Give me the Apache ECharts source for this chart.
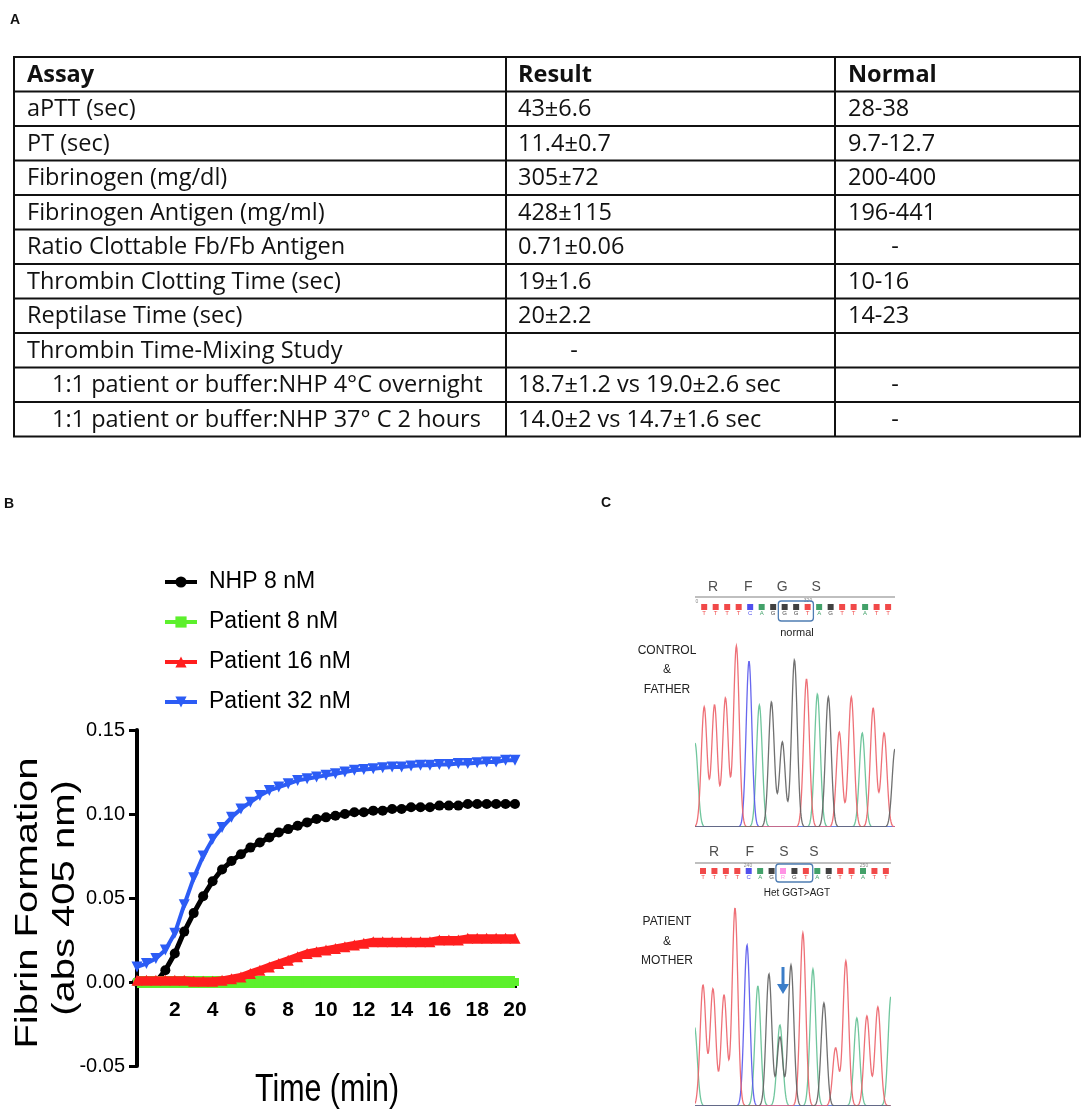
<!DOCTYPE html>
<html>
<head>
<meta charset="utf-8">
<script src="https://cdn.jsdelivr.net/npm/echarts@6/dist/echarts.min.js"></script>
<style>
  html, body { margin: 0; background: #fff; }
  #main { width: 1084px; height: 1110px; }
</style>
</head>
<body>
<div id="main"></div>
<script>
// ---- panel A: assay table ----
const assays = [
  'aPTT (sec)', 'PT (sec)', 'Fibrinogen (mg/dl)', 'Fibrinogen Antigen (mg/ml)',
  'Ratio Clottable Fb/Fb Antigen', 'Thrombin Clotting Time (sec)', 'Reptilase Time (sec)',
  'Thrombin Time-Mixing Study', '1:1 patient or buffer:NHP 4\u00b0C overnight',
  '1:1 patient or buffer:NHP 37\u00b0 C 2 hours'
];
const results = [
  '43\u00b16.6', '11.4\u00b10.7', '305\u00b172', '428\u00b1115', '0.71\u00b10.06',
  '19\u00b11.6', '20\u00b12.2', '-', '18.7\u00b11.2 vs 19.0\u00b12.6 sec', '14.0\u00b12 vs 14.7\u00b11.6 sec'
];
const normals = ['28-38', '9.7-12.7', '200-400', '196-441', '-', '10-16', '14-23', '', '-', '-'];
const indented = [false, false, false, false, false, false, false, false, true, true];

// ---- panel B: fibrin formation ----
const times = [0, 0.5, 1, 1.5, 2, 2.5, 3, 3.5, 4, 4.5, 5, 5.5, 6, 6.5, 7, 7.5, 8, 8.5, 9, 9.5,
  10, 10.5, 11, 11.5, 12, 12.5, 13, 13.5, 14, 14.5, 15, 15.5, 16, 16.5, 17, 17.5, 18, 18.5, 19, 19.5, 20];
const nhp8 = [0, 0, 0, 0.007, 0.017, 0.030, 0.041, 0.051, 0.060, 0.067, 0.072, 0.076, 0.080, 0.083,
  0.086, 0.089, 0.091, 0.093, 0.095, 0.097, 0.098, 0.099, 0.100, 0.101, 0.101, 0.102, 0.102, 0.103,
  0.103, 0.104, 0.104, 0.104, 0.105, 0.105, 0.105, 0.106, 0.106, 0.106, 0.106, 0.106, 0.106];
const patient8 = [0, 0, 0, 0, 0, 0, 0, 0, 0, 0, 0, 0, 0, 0, 0, 0, 0, 0, 0, 0, 0,
  0, 0, 0, 0, 0, 0, 0, 0, 0, 0, 0, 0, 0, 0, 0, 0, 0, 0, 0, 0];
const patient16 = [0.001, 0.001, 0.001, 0.001, 0.001, 0.001, 0.0005, 0.0005, 0.0005, 0.001, 0.002,
  0.003, 0.005, 0.007, 0.009, 0.011, 0.013, 0.015, 0.017, 0.018, 0.019, 0.020, 0.021, 0.022, 0.023,
  0.024, 0.024, 0.024, 0.024, 0.024, 0.024, 0.024, 0.025, 0.025, 0.025, 0.026, 0.026, 0.026, 0.026,
  0.026, 0.026];
const patient32 = [0.009, 0.011, 0.014, 0.019, 0.029, 0.046, 0.062, 0.075, 0.085, 0.092, 0.098, 0.103,
  0.107, 0.111, 0.114, 0.116, 0.118, 0.120, 0.121, 0.122, 0.123, 0.124, 0.125, 0.126, 0.1265, 0.127,
  0.1275, 0.128, 0.128, 0.1285, 0.129, 0.129, 0.1295, 0.1295, 0.130, 0.130, 0.1305, 0.131, 0.131,
  0.132, 0.132];
const yTicks = [-0.05, 0, 0.05, 0.10, 0.15];

// ---- panel C: sequencing traces ----
const controlCalls = ['T', 'T', 'T', 'T', 'C', 'A', 'G', 'G', 'G', 'T', 'A', 'G', 'T', 'T', 'A', 'T', 'T'];
const patientCalls = ['T', 'T', 'T', 'T', 'C', 'A', 'G', 'R', 'G', 'T', 'A', 'G', 'T', 'T', 'A', 'T', 'T'];
const controlResidues = [['R', 0.78], ['F', 3.83], ['G', 6.78], ['S', 9.74]];
const patientResidues = [['R', 0.96], ['F', 4.1], ['S', 7.08], ['S', 9.7]];
// [position (base index), peak height, base]
const controlPeaks = [
  [-0.8, 84, 'A'], [0.0, 120, 'T'], [0.9, 122, 'T'], [1.85, 129, 'T'], [2.8, 181, 'T'],
  [3.9, 166, 'C'], [4.8, 122, 'A'], [5.85, 125, 'G'], [6.8, 85, 'G'], [7.85, 167, 'G'],
  [8.9, 148, 'T'], [9.85, 133, 'A'], [10.8, 130, 'G'], [11.75, 95, 'T'], [12.8, 130, 'T'],
  [13.75, 94, 'A'], [14.7, 119, 'T'], [15.65, 94, 'T'], [16.6, 78, 'G']
];
const patientPeaks = [
  [-0.75, 80, 'A'], [0.0, 121, 'T'], [0.87, 117, 'T'], [1.84, 111, 'T'], [2.8, 198, 'T'],
  [3.85, 161, 'C'], [4.8, 120, 'A'], [5.77, 132, 'G'], [6.73, 81, 'A'], [6.73, 69, 'G'],
  [7.7, 141, 'G'], [8.74, 173, 'T'], [9.62, 137, 'A'], [10.58, 103, 'G'], [11.6, 58, 'T'],
  [12.5, 145, 'T'], [13.46, 88, 'A'], [14.34, 90, 'T'], [15.3, 99, 'T'], [16.45, 110, 'A']
];

const SANS = "'Liberation Sans', Arial, sans-serif";
const TABLE_FONT = "'Open Sans', Lato, sans-serif";
const callColor = { T: '#ee1c1c', C: '#2323e8', A: '#138a43', G: '#111111', R: '#ff77dd' };
const traceColor = { T: 'rgba(236,96,104,0.9)', C: 'rgba(86,86,236,0.9)', A: 'rgba(96,192,146,0.9)', G: 'rgba(96,96,96,0.9)' };

// ---- table graphic ----
const tLeft = 14, tRight = 1080, tTop = 57, rowH = 34.5;
const colX = [506, 835];
const tableEls = [];
const nRows = assays.length + 1;
tableEls.push({ type: 'rect', shape: { x: tLeft, y: tTop, width: tRight - tLeft, height: rowH * nRows },
  style: { fill: null, stroke: '#111', lineWidth: 2 } });
for (let i = 1; i < nRows; i++) {
  const y = tTop + i * rowH;
  tableEls.push({ type: 'line', shape: { x1: tLeft, y1: y, x2: tRight, y2: y }, style: { stroke: '#111', lineWidth: 2 } });
}
colX.forEach(x => tableEls.push({ type: 'line', shape: { x1: x, y1: tTop, x2: x, y2: tTop + rowH * nRows },
  style: { stroke: '#111', lineWidth: 2 } }));
function cell(text, x, row, bold, align) {
  return { type: 'text', x: x, y: tTop + (row + 0.5) * rowH + 1,
    style: { text: text, font: (bold ? 'bold ' : '') + '23.5px ' + TABLE_FONT, fill: '#111',
      textAlign: align || 'left', textVerticalAlign: 'middle' } };
}
tableEls.push(cell('Assay', 27, 0, true), cell('Result', 518, 0, true), cell('Normal', 848, 0, true));
assays.forEach((a, i) => {
  tableEls.push(cell(a, indented[i] ? 52 : 27, i + 1));
  if (results[i] === '-') tableEls.push(cell('-', 574, i + 1, false, 'center'));
  else tableEls.push(cell(results[i], 518, i + 1));
  if (normals[i] === '-') tableEls.push(cell('-', 895, i + 1, false, 'center'));
  else if (normals[i]) tableEls.push(cell(normals[i], 848, i + 1));
});

function label(text, x, y, font, color, align) {
  return { type: 'text', x: x, y: y, style: { text: text, font: font, fill: color || '#111',
    textAlign: align || 'center', textVerticalAlign: 'middle' } };
}

const otherEls = [
  label('A', 15, 20, 'bold 14px ' + SANS),
  label('B', 9, 504, 'bold 14px ' + SANS),
  label('C', 606, 503, 'bold 14px ' + SANS),
  // axis titles of panel B
  { type: 'text', x: 28, y: 903, rotation: Math.PI / 2, scaleX: 1.25,
    style: { text: 'Fibrin Formation', font: '32px ' + SANS, fill: '#000', textAlign: 'center', textVerticalAlign: 'middle' } },
  { type: 'text', x: 65, y: 898, rotation: Math.PI / 2, scaleX: 1.25,
    style: { text: '(abs 405 nm)', font: '32px ' + SANS, fill: '#000', textAlign: 'center', textVerticalAlign: 'middle' } },
  { type: 'text', x: 327, y: 1091, scaleX: 0.8,
    style: { text: 'Time (min)', font: '38px ' + SANS, fill: '#000', textAlign: 'center', textVerticalAlign: 'middle' } },
  // panel C annotations
  { type: 'line', shape: { x1: 695, y1: 597, x2: 895, y2: 597 }, style: { stroke: '#aaa', lineWidth: 1.5 } },
  { type: 'line', shape: { x1: 695, y1: 863, x2: 891, y2: 863 }, style: { stroke: '#aaa', lineWidth: 1.5 } },
  label('0', 697, 602, '5px ' + SANS, '#888'),
  label('320', 808, 601, '5px ' + SANS, '#888'),
  label('240', 748, 866, '5px ' + SANS, '#888'),
  label('250', 864, 866, '5px ' + SANS, '#888'),
  label('normal', 797, 633, '11px ' + SANS, '#222'),
  label('Het GGT>AGT', 797, 893, '10px ' + SANS, '#222'),
  label('CONTROL', 667, 651, '12px ' + SANS, '#222'),
  label('&', 667, 670, '12px ' + SANS, '#222'),
  label('FATHER', 667, 690, '12px ' + SANS, '#222'),
  label('PATIENT', 667, 922, '12px ' + SANS, '#222'),
  label('&', 667, 942, '12px ' + SANS, '#222'),
  label('MOTHER', 667, 961, '12px ' + SANS, '#222'),
  // mutation arrow
  { type: 'line', shape: { x1: 783, y1: 967, x2: 783, y2: 986 }, style: { stroke: '#3b7dc8', lineWidth: 3 } },
  { type: 'polygon', shape: { points: [[777, 984], [789, 984], [783, 994]] }, style: { fill: '#3b7dc8' } }
];

// ---- chromatogram helpers ----
const SIG = 0.25;
function traceSeries(peaks, base, axis, range) {
  const own = peaks.filter(p => p[2] === base);
  return {
    type: 'custom', xAxisIndex: axis, yAxisIndex: axis, silent: true, clip: true, z: base === 'G' ? 3 : 2,
    data: own.map(p => [p[0], p[1]]),
    renderItem: function (params, api) {
      if (params.dataIndex !== 0) return null;
      const pts = [];
      for (let x = range[0]; x <= range[1] + 1e-9; x += 0.04) {
        let y = 0;
        own.forEach(p => { y += p[1] * Math.exp(-((x - p[0]) * (x - p[0])) / (2 * SIG * SIG)); });
        pts.push(api.coord([x, y]));
      }
      return { type: 'polyline', shape: { points: pts },
        style: { stroke: traceColor[base], lineWidth: 1.3, fill: null } };
    }
  };
}
function callSeries(calls, axis, yDot) {
  return {
    type: 'scatter', xAxisIndex: axis, yAxisIndex: axis, silent: true, symbol: 'rect', symbolSize: 6,
    data: calls.map((c, i) => ({ value: [i, yDot], name: c, itemStyle: { color: callColor[c] } })),
    label: { show: true, position: 'bottom', distance: 0, formatter: p => p.name,
      fontSize: 6, fontFamily: SANS, color: 'inherit' }
  };
}
function residueSeries(res, axis, y) {
  return {
    type: 'scatter', xAxisIndex: axis, yAxisIndex: axis, silent: true, symbolSize: 0.1,
    data: res.map(r => ({ value: [r[1], y], name: r[0] })),
    label: { show: true, position: 'inside', formatter: p => p.name, fontSize: 14, fontFamily: SANS, color: '#222' }
  };
}
function boxSeries(axis, box) {
  return {
    type: 'custom', xAxisIndex: axis, yAxisIndex: axis, silent: true, data: [box],
    renderItem: function (params, api) {
      const a = api.coord([api.value(0), api.value(2)]);
      const b = api.coord([api.value(1), api.value(3)]);
      return { type: 'rect', shape: { x: a[0], y: a[1], width: b[0] - a[0], height: b[1] - a[1], r: 3 },
        style: { fill: null, stroke: '#4f7db3', lineWidth: 1.3 } };
    }
  };
}

const ctrlRange = [-0.8, 16.6], patRange = [-0.7, 16.45];
function hAxis(range, grid) { return { type: 'value', gridIndex: grid, min: range[0], max: range[1], show: false }; }

// zero line position of panel B, so the x axis sits on y = 0
const plotTop = 730, plotH = 336;
const zeroOffset = plotH * (0 - yTicks[0]) / (yTicks[yTicks.length - 1] - yTicks[0]);

const option = {
  backgroundColor: '#fff',
  animation: false,
  graphic: tableEls.concat(otherEls),
  legend: {
    orient: 'vertical', left: 163, top: 570, padding: 0,
    itemWidth: 32, itemHeight: 14, itemGap: 16,
    textStyle: { fontSize: 23, fontFamily: SANS, color: '#000', lineHeight: 24, padding: [0, 0, 0, 7] },
    lineStyle: { width: 4 },
    data: ['NHP 8 nM', 'Patient 8 nM', 'Patient 16 nM', 'Patient 32 nM']
  },
  grid: [
    { left: 137, top: plotTop, width: 378, height: plotH },
    { left: 695, top: 627, width: 200, height: 200 },
    { left: 695, top: 906, width: 196, height: 200 },
    { left: 695, top: 580, width: 200, height: 40 },
    { left: 695, top: 844, width: 196, height: 40 }
  ],
  xAxis: [
    {
      type: 'value', gridIndex: 0, min: 0, max: 20, interval: 2,
      offset: -zeroOffset,
      axisLine: { onZero: false, lineStyle: { color: '#000', width: 3 } },
      axisTick: { show: true, length: 6, lineStyle: { color: '#000', width: 3 } },
      axisLabel: { color: '#000', fontSize: 21, fontWeight: 'bold', fontFamily: SANS, margin: 18,
        formatter: v => (v === 0 ? '' : String(v)) },
      splitLine: { show: false }
    },
    hAxis(ctrlRange, 1), hAxis(patRange, 2), hAxis(ctrlRange, 3), hAxis(patRange, 4)
  ],
  yAxis: [
    {
      type: 'value', gridIndex: 0, min: yTicks[0], max: yTicks[yTicks.length - 1], interval: 0.05,
      axisLine: { show: true, lineStyle: { color: '#000', width: 4 } },
      axisTick: { show: true, length: 8, lineStyle: { color: '#000', width: 3 } },
      axisLabel: { color: '#000', fontSize: 20, fontFamily: SANS, margin: 12, formatter: v => v.toFixed(2) },
      splitLine: { show: false }
    },
    { type: 'value', gridIndex: 1, min: 0, max: 200, show: false },
    { type: 'value', gridIndex: 2, min: 0, max: 200, show: false },
    { type: 'value', gridIndex: 3, min: 0, max: 40, inverse: true, show: false },
    { type: 'value', gridIndex: 4, min: 0, max: 40, inverse: true, show: false }
  ],
  series: [
    { name: 'NHP 8 nM', type: 'line', data: times.map((t, i) => [t, nhp8[i]]), symbol: 'circle', symbolSize: 10,
      itemStyle: { color: '#000' }, lineStyle: { color: '#000', width: 5 }, z: 2 },
    { name: 'Patient 8 nM', type: 'line', data: times.map((t, i) => [t, patient8[i]]), symbol: 'rect', symbolSize: 8,
      itemStyle: { color: '#5cf02c' }, lineStyle: { color: '#5cf02c', width: 12 }, z: 3 },
    { name: 'Patient 16 nM', type: 'line', data: times.map((t, i) => [t, patient16[i]]), symbol: 'triangle', symbolSize: 11,
      itemStyle: { color: '#ff1e1e' }, lineStyle: { color: '#ff1e1e', width: 8 }, z: 4 },
    { name: 'Patient 32 nM', type: 'line', data: times.map((t, i) => [t, patient32[i]]), symbol: 'triangle',
      symbolRotate: 180, symbolSize: 11,
      itemStyle: { color: '#2c5cf5' }, lineStyle: { color: '#2c5cf5', width: 4 }, z: 5 }
  ]
};

['A', 'C', 'T', 'G'].forEach(b => {
  option.series.push(traceSeries(controlPeaks, b, 1, ctrlRange));
  option.series.push(traceSeries(patientPeaks, b, 2, patRange));
});
option.series.push(callSeries(controlCalls, 3, 27), callSeries(patientCalls, 4, 27));
option.series.push(residueSeries(controlResidues, 3, 7), residueSeries(patientResidues, 4, 8));
option.series.push(boxSeries(3, [6.45, 9.5, 21, 41]), boxSeries(4, [6.38, 9.6, 20, 38]));

const chart = echarts.init(document.getElementById('main'));
chart.setOption(option);
</script>
</body>
</html>
